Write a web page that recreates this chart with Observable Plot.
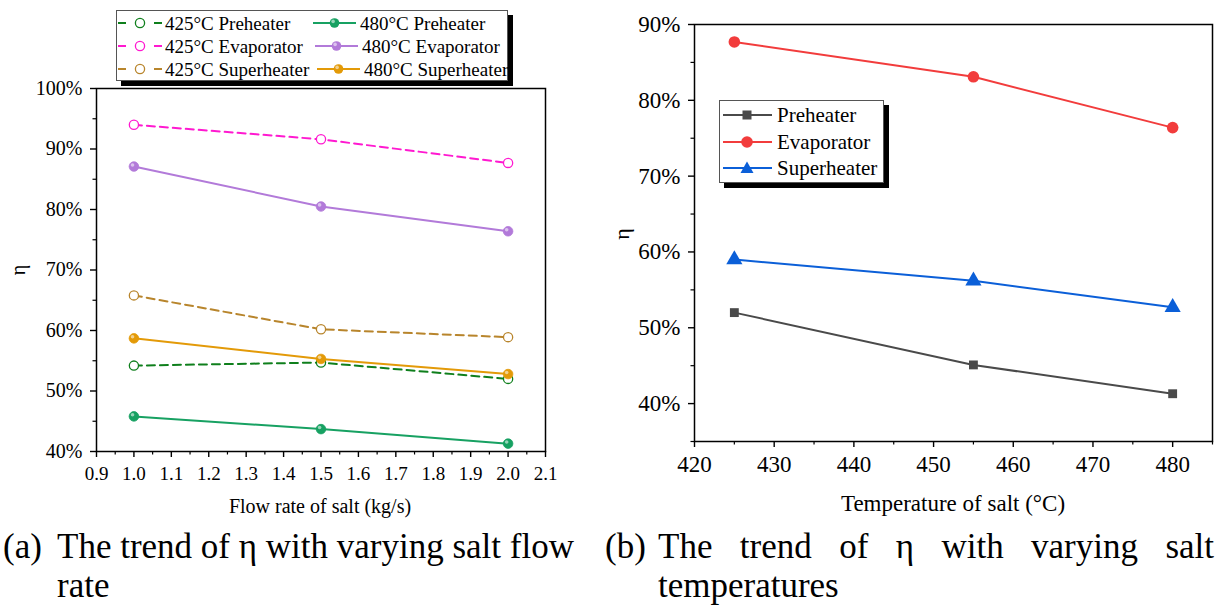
<!DOCTYPE html>
<html><head><meta charset="utf-8">
<script src="https://cdn.jsdelivr.net/npm/d3@7"></script>
<script src="https://cdn.jsdelivr.net/npm/@observablehq/plot@0.6"></script>
<style>
html,body{margin:0;padding:0;background:#fff;width:1221px;height:607px;overflow:hidden;font-family:"Liberation Serif","Times New Roman",serif;color:#000;}
#root{position:relative;width:1221px;height:607px;}
.abs{position:absolute;font-family:"Liberation Serif","Times New Roman",serif;}
.cap{position:absolute;font-family:"Liberation Serif","Times New Roman",serif;font-size:35px;line-height:38px;white-space:normal;transform:scaleY(1.05);transform-origin:0 0;}
svg text{font-family:"Liberation Serif","Times New Roman",serif;}
</style></head><body><div id="root"></div>
<script>
// ---------- Data: panel (a) ----------
const flowRates = [1.0, 1.5, 2.0];
const pre425  = [0.542, 0.547, 0.520];
const pre480  = [0.458, 0.437, 0.413];
const evap425 = [0.940, 0.916, 0.877];
const evap480 = [0.871, 0.805, 0.764];
const sup425  = [0.658, 0.602, 0.589];
const sup480  = [0.587, 0.553, 0.528];
const flowTicks = [0.9,1.0,1.1,1.2,1.3,1.4,1.5,1.6,1.7,1.8,1.9,2.0,2.1];
const flowMinor = [0.95,1.05,1.15,1.25,1.35,1.45,1.55,1.65,1.75,1.85,1.95,2.05];
const etaTicksA = [0.4,0.5,0.6,0.7,0.8,0.9,1.0];
const etaMinorA = [0.45,0.55,0.65,0.75,0.85,0.95];
const legendA = ["425°C Preheater","480°C Preheater","425°C Evaporator","480°C Evaporator","425°C Superheater","480°C Superheater"];

// ---------- Data: panel (b) ----------
const temps = [425, 455, 480];
const preT  = [0.520, 0.451, 0.413];
const evapT = [0.877, 0.831, 0.764];
const supT  = [0.590, 0.562, 0.527];
const tempTicks = [420,430,440,450,460,470,480];
const tempMinor = [425,435,445,455,465,475,485];
const etaTicksB = [0.4,0.5,0.6,0.7,0.8,0.9];
const etaMinorB = [0.35,0.45,0.55,0.65,0.75,0.85];
const legendB = ["Preheater","Evaporator","Superheater"];

const FONT = "'Liberation Serif', 'Times New Roman', serif";
const pct = d3.format(".0%");
const root = document.getElementById("root");

function rows(xs, ys){ return xs.map((x,i)=>({x, y: ys[i]})); }

// ---------- Panel (a) ----------
const C = {
  pre425:"#0f7f1c", pre480:"#17a162", evap425:"#ff19d0", evap480:"#b27ad9",
  sup425:"#b8852c", sup480:"#e39a08"
};
const dashA = "8,5";
function dashed(vals, c){
  const d = rows(flowRates, vals);
  return [
    Plot.line(d, {x:"x", y:"y", stroke:c, strokeWidth:2, strokeDasharray:dashA}),
    Plot.dot(d, {x:"x", y:"y", r:4.6, stroke:c, fill:"white", strokeWidth:1.3})
  ];
}
function solid(vals, c){
  const d = rows(flowRates, vals);
  return [
    Plot.line(d, {x:"x", y:"y", stroke:c, strokeWidth:2}),
    Plot.dot(d, {x:"x", y:"y", r:4.8, fill:c, stroke:c, strokeWidth:0.8}),
    Plot.dot(d, {x:"x", y:"y", r:1.8, fill:"white", fillOpacity:0.55, dx:-1.4, dy:-1.6})
  ];
}
const plotA = Plot.plot({
  width: 600, height: 520,
  marginLeft: 96, marginRight: 55, marginTop: 88, marginBottom: 69,
  x: {domain:[0.9, 2.1]},
  y: {domain:[0.4, 1.0]},
  style: {fontFamily: FONT, fontSize: "19px", color: "#000", background: "transparent", overflow: "visible"},
  marks: [
    Plot.axisX({ticks: flowTicks, tickSize: 6, tickPadding: 9, tickFormat: d3.format(".1f"), label: null, fontSize: 19, fontFamily: FONT, strokeWidth: 1.4}),
    Plot.axisX({ticks: flowMinor, tickSize: 3.5, tickFormat: () => "", label: null, strokeWidth: 1.2}),
    Plot.axisY({ticks: etaTicksA, tickSize: 6, tickPadding: 8, tickFormat: pct, label: null, fontSize: 20, fontFamily: FONT, strokeWidth: 1.4}),
    Plot.axisY({ticks: etaMinorA, tickSize: 3.5, tickFormat: () => "", label: null, strokeWidth: 1.2}),
    Plot.frame({stroke: "#000", strokeWidth: 1.5}),
    ...dashed(evap425, C.evap425),
    ...solid(evap480, C.evap480),
    ...dashed(sup425, C.sup425),
    ...dashed(pre425, C.pre425),
    ...solid(sup480, C.sup480),
    ...solid(pre480, C.pre480)
  ]
});
plotA.style.position = "absolute"; plotA.style.left = "0px"; plotA.style.top = "0px";
root.appendChild(plotA);

// ---------- Panel (b) ----------
const CB = {pre:"#4a4a4a", evap:"#f23c3c", sup:"#0b5fd8"};
const plotB = Plot.plot({
  width: 621, height: 520,
  marginLeft: 94, marginRight: 9, marginTop: 24, marginBottom: 79,
  x: {domain:[420, 485]},
  y: {domain:[0.35, 0.90]},
  style: {fontFamily: FONT, fontSize: "23px", color: "#000", background: "transparent", overflow: "visible"},
  marks: [
    Plot.axisX({ticks: tempTicks, tickSize: 6, tickPadding: 8, tickFormat: d3.format("d"), label: null, fontSize: 23, fontFamily: FONT, strokeWidth: 1.4}),
    Plot.axisX({ticks: tempMinor, tickSize: 3.5, tickFormat: () => "", label: null, strokeWidth: 1.2}),
    Plot.axisY({ticks: etaTicksB, tickSize: 6, tickPadding: 8, tickFormat: pct, label: null, fontSize: 23, fontFamily: FONT, strokeWidth: 1.4}),
    Plot.axisY({ticks: etaMinorB, tickSize: 3.5, tickFormat: () => "", label: null, strokeWidth: 1.2}),
    Plot.frame({stroke: "#000", strokeWidth: 1.5}),
    Plot.line(rows(temps, preT), {x:"x", y:"y", stroke: CB.pre, strokeWidth: 2}),
    Plot.dot(rows(temps, preT), {x:"x", y:"y", symbol:"square", r:5, fill: CB.pre}),
    Plot.line(rows(temps, evapT), {x:"x", y:"y", stroke: CB.evap, strokeWidth: 2}),
    Plot.dot(rows(temps, evapT), {x:"x", y:"y", symbol:"circle", r:5.8, fill: CB.evap}),
    Plot.line(rows(temps, supT), {x:"x", y:"y", stroke: CB.sup, strokeWidth: 2}),
    Plot.dot(rows(temps, supT), {x:"x", y:"y", symbol:"triangle", r:6, fill: CB.sup})
  ]
});
plotB.style.position = "absolute"; plotB.style.left = "600px"; plotB.style.top = "0px";
root.appendChild(plotB);

// ---------- Axis titles ----------
function addText(txt, left, top, size, rotate){
  const d = document.createElement("div");
  d.className = "abs";
  d.textContent = txt;
  d.style.fontSize = size + "px";
  d.style.lineHeight = "1";
  d.style.whiteSpace = "nowrap";
  d.style.left = left + "px"; d.style.top = top + "px";
  d.style.transform = "translate(-50%,-50%)" + (rotate ? " rotate(-90deg)" : "");
  root.appendChild(d);
}
addText("Flow rate of salt (kg/s)", 320, 506, 20, false);
addText("η", 18, 270, 20, true);
addText("Temperature of salt (°C)", 953, 503, 23, false);
addText("η", 622, 234, 22, true);

// ---------- Legends ----------
const NS = "http://www.w3.org/2000/svg";
function svgEl(tag, attrs, parent){
  const e = document.createElementNS(NS, tag);
  for (const k in attrs) e.setAttribute(k, attrs[k]);
  parent.appendChild(e); return e;
}
const leg = document.createElementNS(NS, "svg");
leg.setAttribute("width", 1221); leg.setAttribute("height", 607);
leg.style.position = "absolute"; leg.style.left = "0px"; leg.style.top = "0px";
leg.style.fontFamily = FONT;
root.appendChild(leg);

// legend (a)
svgEl("rect", {x:121, y:15, width:392, height:71, fill:"#000"}, leg);
svgEl("rect", {x:116.5, y:10.5, width:391, height:70, fill:"#fff", stroke:"#555", "stroke-width":1}, leg);
const colsA = [C.pre425, C.pre480, C.evap425, C.evap480, C.sup425, C.sup480];
const rowY = [23, 46, 69];
for (let r = 0; r < 3; r++){
  const y = rowY[r];
  const c1 = colsA[2*r], c2 = colsA[2*r+1];
  svgEl("line", {x1:118, x2:126, y1:y, y2:y, stroke:c1, "stroke-width":2}, leg);
  svgEl("line", {x1:154, x2:162, y1:y, y2:y, stroke:c1, "stroke-width":2}, leg);
  svgEl("circle", {cx:140, cy:y, r:4.6, fill:"#fff", stroke:c1, "stroke-width":1.3}, leg);
  const t1 = svgEl("text", {x:165, y:y, "font-size":19, "dominant-baseline":"central"}, leg);
  t1.textContent = legendA[2*r];
  const lx1 = 313 + r*2, lx2 = 356 + r*2;
  svgEl("line", {x1:lx1, x2:lx2, y1:y, y2:y, stroke:c2, "stroke-width":2}, leg);
  svgEl("circle", {cx:(lx1+lx2)/2, cy:y, r:4.8, fill:c2}, leg);
  svgEl("circle", {cx:(lx1+lx2)/2-1.4, cy:y-1.6, r:1.8, fill:"#fff", "fill-opacity":0.55}, leg);
  const t2 = svgEl("text", {x:lx2+4, y:y, "font-size":19, "dominant-baseline":"central"}, leg);
  t2.textContent = legendA[2*r+1];
}

// legend (b)
svgEl("rect", {x:724, y:105, width:165, height:83, fill:"#000"}, leg);
svgEl("rect", {x:719.5, y:100.5, width:164, height:82, fill:"#fff", stroke:"#555", "stroke-width":1}, leg);
const colsB = [CB.pre, CB.evap, CB.sup];
const rowYB = [115, 142, 168];
for (let r = 0; r < 3; r++){
  const y = rowYB[r];
  svgEl("line", {x1:723, x2:772, y1:y, y2:y, stroke:colsB[r], "stroke-width":2}, leg);
  if (r === 0) svgEl("rect", {x:742.5, y:y-4.5, width:9, height:9, fill:colsB[r]}, leg);
  if (r === 1) svgEl("circle", {cx:747, cy:y, r:5.8, fill:colsB[r]}, leg);
  if (r === 2) svgEl("path", {d:`M747,${y-6.5} L753.5,${y+5} L740.5,${y+5} Z`, fill:colsB[r]}, leg);
  const t = svgEl("text", {x:777, y:y, "font-size":21, "dominant-baseline":"central"}, leg);
  t.textContent = legendB[r];
}

// ---------- Captions ----------
function caption(label, text, left, labelW, width, justify){
  const lab = document.createElement("div");
  lab.className = "cap"; lab.textContent = label;
  lab.style.left = left + "px"; lab.style.top = "526px";
  root.appendChild(lab);
  const d = document.createElement("div");
  d.className = "cap"; d.textContent = text;
  d.style.left = (left + labelW) + "px"; d.style.top = "526px";
  d.style.width = width + "px";
  d.style.textAlign = justify ? "justify" : "left";
  d.style.textAlignLast = "left";
  root.appendChild(d);
}
caption("(a)", "The trend of η with varying salt flow rate", 3, 54, 540, false);
caption("(b)", "The trend of η with varying salt temperatures", 605, 53, 556, true);
</script></body></html>
